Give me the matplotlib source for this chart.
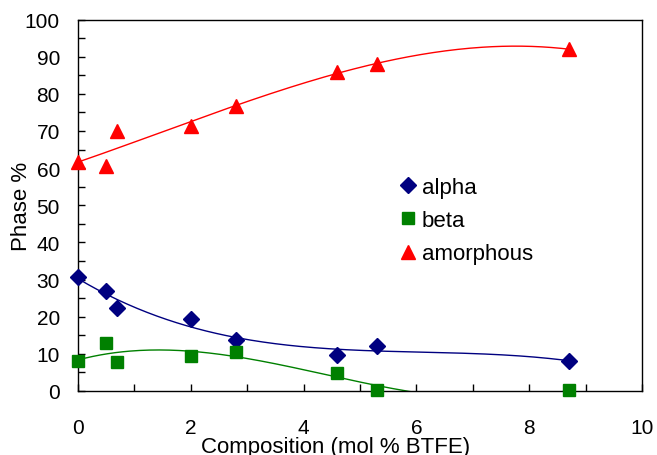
import matplotlib
matplotlib.use("Agg")
import matplotlib.pyplot as plt
import numpy as np

# composition (mol % BTFE) and phase fractions
comp = [0, 0.5, 0.7, 2.0, 2.8, 4.6, 5.3, 8.7]
alpha = [30.6, 27.0, 22.3, 19.3, 13.7, 9.6, 12.1, 8.1]
beta = [8.1, 12.8, 7.9, 9.4, 10.5, 4.8, 0.3, 0.3]
amorphous = [61.6, 60.6, 70.0, 71.4, 76.8, 86.0, 88.0, 92.0]

plt.rcParams['font.family'] = ['Liberation Sans', 'DejaVu Sans']
plt.rcParams['font.size'] = 16

fig = plt.figure(figsize=(6.57, 4.56), dpi=100)
ax = fig.add_axes([78/657, 1 - 392/456, (642-78)/657, (392-20.5)/456])

xs = np.linspace(0, max(comp), 200)
series = [
    (alpha, "navy", "D", 8.5, "alpha"),
    (beta, "green", "s", 9, "beta"),
    (amorphous, "red", "^", 10, "amorphous"),
]
for vals, col, mk, ms, name in series:
    # 3rd order polynomial trendline
    coef = np.polyfit(comp, vals, 3)
    ax.plot(xs, np.polyval(coef, xs), color=col, lw=1)
    ax.plot(comp, vals, linestyle="none", marker=mk, ms=ms, color=col,
            markeredgecolor=col, label=name, clip_on=False, zorder=3)

ax.set_xlim(0, 10)
ax.set_ylim(0, 100)
ax.set_xticks(range(0, 11, 2))
ax.set_xticks(range(0, 11), minor=True)
ax.set_yticks(range(0, 101, 10))
ax.set_yticks(range(0, 101, 5), minor=True)
ax.tick_params(which="both", direction="in", length=5, width=1, labelsize=15)
ax.tick_params(axis="x", which="both", pad=19.5)
ax.tick_params(axis="y", which="both", pad=13)
for s in ax.spines.values():
    s.set_linewidth(1)

ax.set_ylabel("Phase %", va="center")
ax.yaxis.set_label_coords((22 - 78) / 564, 0.5)
ax.set_xlabel("Composition (mol % BTFE)", va="top")
ax.xaxis.set_label_coords((336 - 78) / 564, (392 - 437.5) / 371.5)

ax.legend(loc="upper left", bbox_to_anchor=(0.558, 0.60), frameon=False,
          handlelength=0.6, handletextpad=0.3, labelspacing=0.55,
          borderaxespad=0)

fig.savefig("out.png", dpi=100)
